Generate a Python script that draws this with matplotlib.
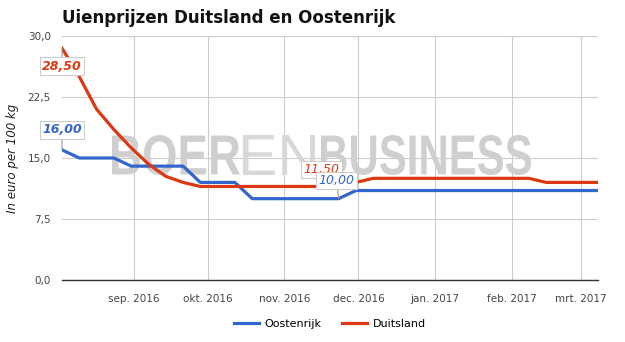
import matplotlib
matplotlib.use("Agg")
import matplotlib.pyplot as plt
import pandas as pd
from matplotlib.textpath import TextPath
from matplotlib.patches import PathPatch
from matplotlib.font_manager import FontProperties
from matplotlib.transforms import Affine2D, IdentityTransform

# weekly prices, euro per 100 kg
dates = pd.date_range("2016-08-03", periods=32, freq="7D")
oostenrijk = [16, 15, 15, 15, 14, 14, 14, 14, 12, 12, 12,
              10, 10, 10, 10, 10, 10,
              11, 11, 11, 11, 11, 11, 11, 11, 11, 11, 11, 11, 11, 11, 11]
duitsland = [28.5, 25, 21, 18.5, 16.25, 14.25, 12.75, 12,
             11.5, 11.5, 11.5, 11.5, 11.5, 11.5, 11.5, 11.5, 11.5,
             12, 12.5, 12.5, 12.5, 12.5, 12.5, 12.5, 12.5, 12.5, 12.5, 12.5,
             12, 12, 12, 12]

month_ticks = pd.to_datetime(["2016-09-01", "2016-10-01", "2016-11-01", "2016-12-01",
                              "2017-01-01", "2017-02-01", "2017-03-01"])
month_labels = ["sep. 2016", "okt. 2016", "nov. 2016", "dec. 2016",
                "jan. 2017", "feb. 2017", "mrt. 2017"]
y_ticks = [0, 7.5, 15, 22.5, 30]

BLUE = "#3366cc"
RED = "#dc3912"

fig = plt.figure(figsize=(6.25, 3.42), dpi=100)
ax = fig.add_axes([62 / 625, 1 - 280 / 342, 536 / 625, 244 / 342])


def watermark(text, x, y, width, height, color, weight):
    """Stretch a text path into a pixel box (x, y = bottom-left, pixels from top-left)."""
    tp = TextPath((0, 0), text, size=100, prop=FontProperties(family="Liberation Sans", weight=weight))
    bb = tp.get_extents()
    tr = Affine2D().translate(-bb.x0, -bb.y0).scale(width / bb.width, height / bb.height) \
        .translate(x, 342 - y)
    patch = PathPatch(tp, transform=tr + IdentityTransform(), fc=color, ec="none", zorder=1.5)
    ax.add_artist(patch)


ax.plot(dates, oostenrijk, color=BLUE, lw=2.3, label="Oostenrijk", zorder=3, solid_joinstyle="round")
ax.plot(dates, duitsland, color=RED, lw=2.3, label="Duitsland", zorder=3, solid_joinstyle="round")

ax.set_xlim(dates[0], dates[-1])
ax.set_ylim(0, 30)
ax.set_yticks(y_ticks)
ax.set_yticklabels([f"{v:.1f}".replace(".", ",") for v in y_ticks])
ax.set_xticks(month_ticks)
ax.set_xticklabels(month_labels)
ax.tick_params(length=0, labelsize=7.5, labelcolor="#444444")
ax.tick_params(axis="x", pad=10)
ax.tick_params(axis="y", pad=8)
ax.grid(True, color="#cccccc", lw=0.8)
ax.set_axisbelow(True)
for side in ["top", "right", "left"]:
    ax.spines[side].set_visible(False)
ax.spines["bottom"].set_color("#333333")
ax.spines["bottom"].set_linewidth(1.0)

ax.set_ylabel("In euro per 100 kg", fontsize=8.5, style="italic", color="#222222", labelpad=6)
fig.text(62 / 625, 1 - 18 / 342, "Uienprijzen Duitsland en Oostenrijk", fontsize=12,
         fontweight="bold", color="#111111", va="center", ha="left")

watermark("BOER", 112, 175, 128, 40, "#cfcfcf", "bold")
watermark("EN", 243, 175, 72, 40, "#d8d8d8", "normal")
watermark("BUSINESS", 321, 175, 210, 40, "#cfcfcf", "bold")

# point labels: (series, index, colour, offset in pixels, bold)
notes = [
    (duitsland, 0, RED, (0, -18), "bold"),
    (oostenrijk, 0, BLUE, (0, 20), "bold"),
    (duitsland, 15, RED, (0, 17), "normal"),
    (oostenrijk, 16, BLUE, (-2, 18), "normal"),
]
for series, i, col, (dx, dy), w in notes:
    ax.annotate(f"{series[i]:.2f}".replace(".", ","), xy=(dates[i], series[i]),
                xytext=(dx * 0.72, dy * 0.72), textcoords="offset points",
                ha="center", va="center", fontsize=9, style="italic", fontweight=w, color=col,
                bbox=dict(boxstyle="square,pad=0.18", fc="white", ec="#cccccc", lw=0.8),
                arrowprops=dict(arrowstyle="-", color="#999999", lw=0.8, shrinkA=0, shrinkB=0),
                zorder=5)

fig.legend(loc="center", bbox_to_anchor=(0.528, 1 - 324 / 342), ncol=2, frameon=False,
           fontsize=8, handlelength=2.2, columnspacing=1.9, handletextpad=0.5)

fig.savefig("out.png", dpi=100)
